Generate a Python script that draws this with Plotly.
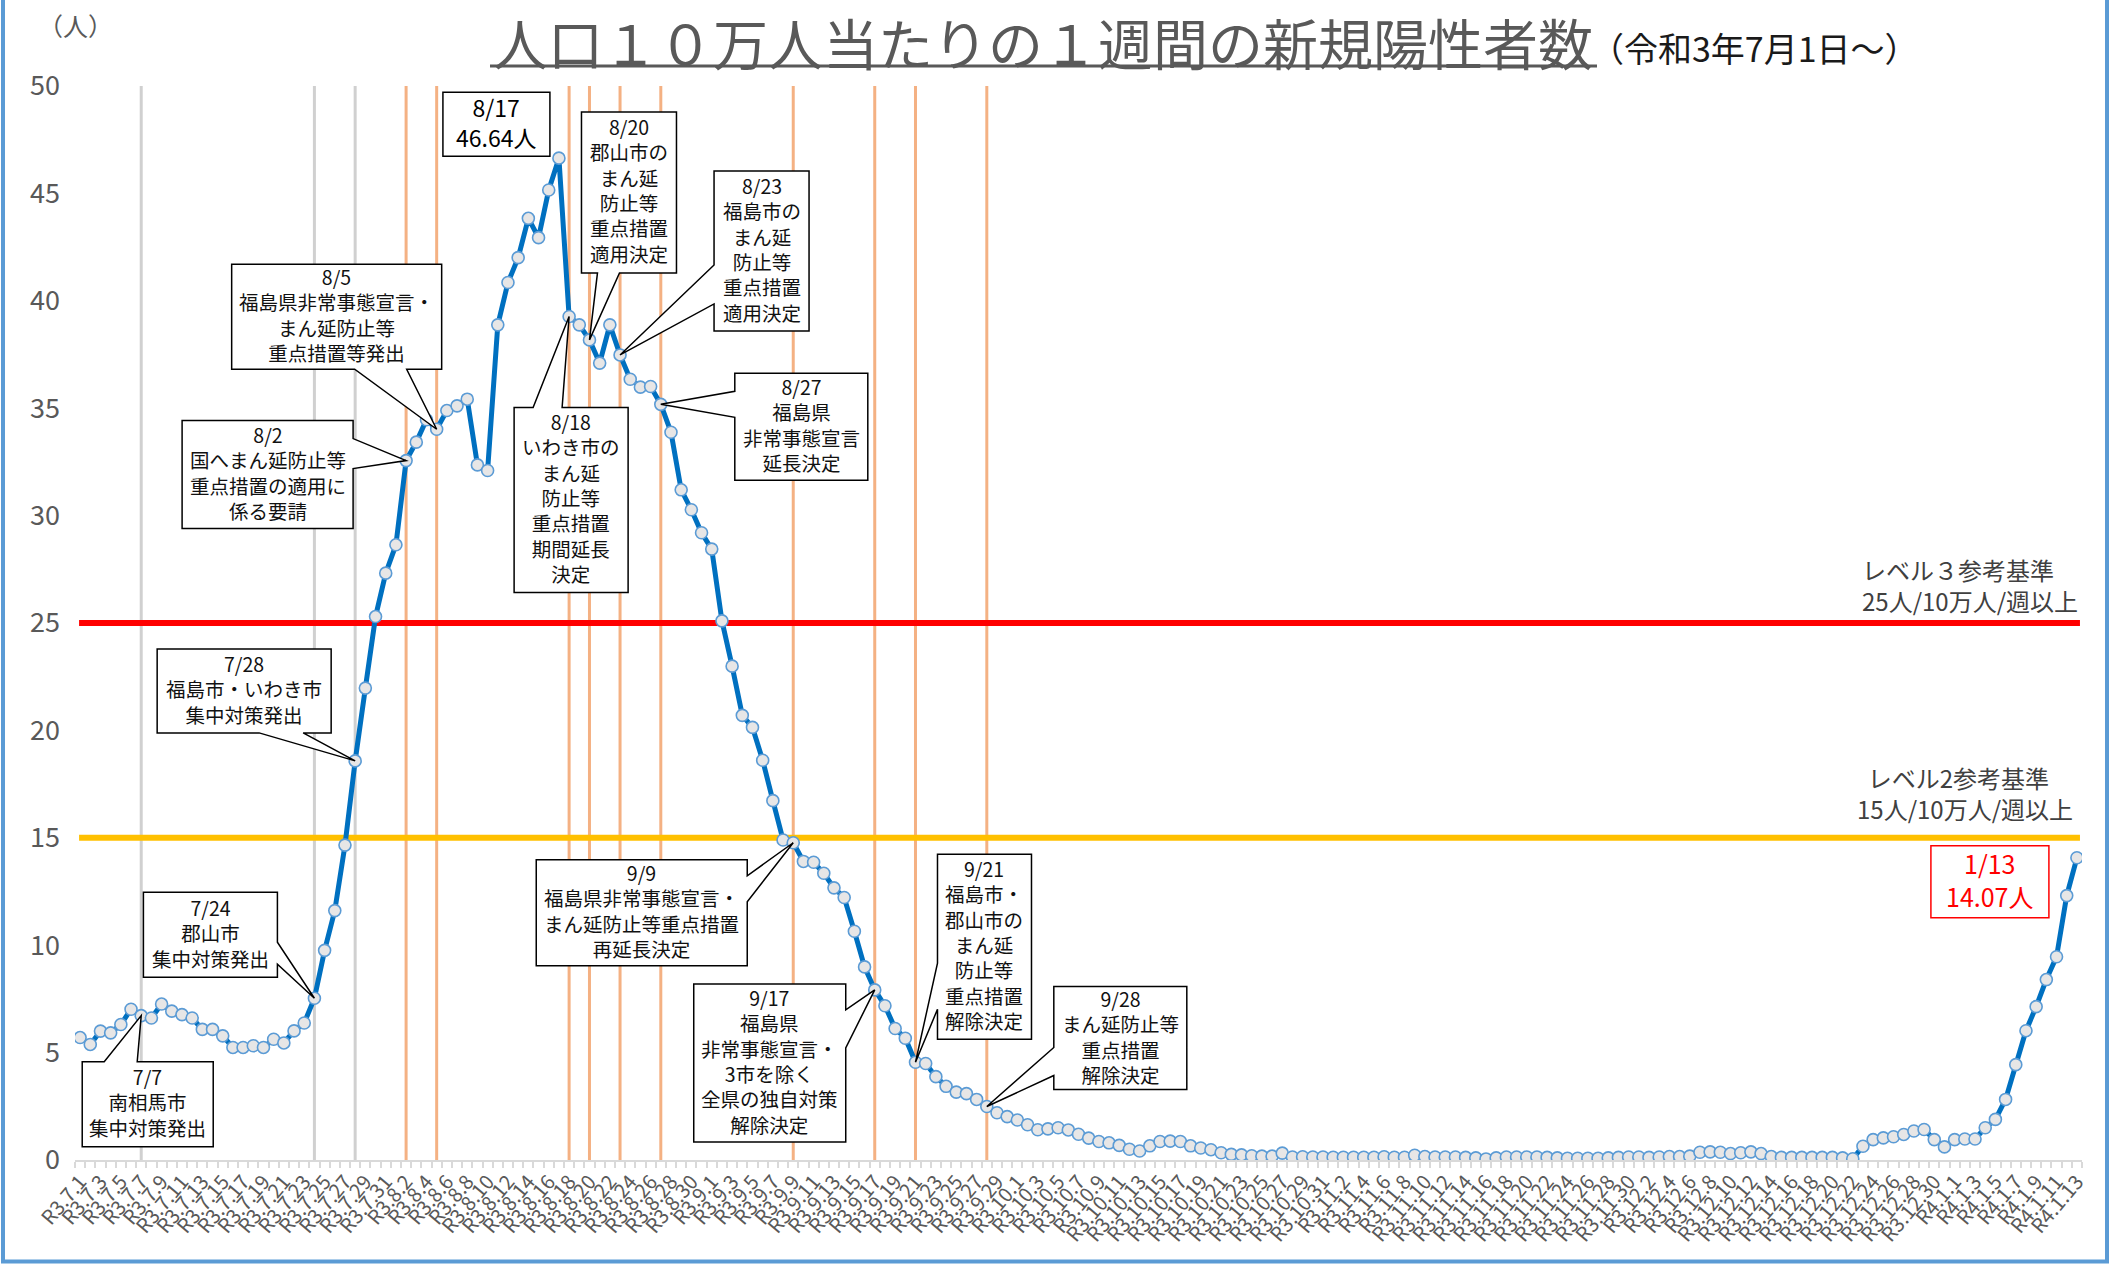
import plotly.graph_objects as go
import pandas as pd

# ---------------- data ----------------
dates = pd.date_range("2021-07-01", "2022-01-13", freq="D")
labels = [f"R{d.year - 2018}.{d.month}.{d.day}" for d in dates]

values = [
    # July 2021
    5.70, 5.38, 6.00, 5.92, 6.31, 7.02, 6.72, 6.61, 7.26, 6.93,
    6.77, 6.61, 6.08, 6.08, 5.78, 5.24, 5.24, 5.32, 5.24, 5.62,
    5.45, 6.01, 6.38, 7.53, 9.76, 11.61, 14.66, 18.58, 21.97, 25.30,
    27.32,
    # August
    28.64, 32.56, 33.42, 34.46, 34.02, 34.89, 35.11, 35.42, 32.36, 32.10,
    38.88, 40.85, 42.01, 43.84, 42.94, 45.16, 46.64, 39.27, 38.88, 38.18,
    37.10, 38.88, 37.48, 36.35, 35.98, 36.01, 35.18, 33.88, 31.20, 30.27,
    29.20,
    # September
    28.44, 25.10, 22.99, 20.70, 20.14, 18.61, 16.73, 14.90, 14.77, 13.90,
    13.86, 13.35, 12.67, 12.22, 10.65, 8.99, 7.92, 7.18, 6.12, 5.67,
    4.55, 4.49, 3.88, 3.43, 3.16, 3.09, 2.82, 2.49, 2.20, 2.02,
    # October
    1.86, 1.64, 1.41, 1.45, 1.50, 1.40, 1.20, 1.02, 0.86, 0.80,
    0.68, 0.50, 0.42, 0.66, 0.86, 0.88, 0.86, 0.66, 0.56, 0.48,
    0.34, 0.26, 0.24, 0.20, 0.18, 0.18, 0.32, 0.14, 0.15, 0.14,
    0.14,
    # November
    0.13, 0.13, 0.13, 0.13, 0.13, 0.15, 0.13, 0.13, 0.22, 0.16,
    0.14, 0.14, 0.14, 0.12, 0.10, 0.05, 0.10, 0.14, 0.14, 0.14,
    0.14, 0.12, 0.10, 0.08, 0.08, 0.08, 0.08, 0.10, 0.12, 0.14,
    # December
    0.14, 0.12, 0.14, 0.16, 0.16, 0.18, 0.36, 0.38, 0.36, 0.30,
    0.34, 0.38, 0.30, 0.16, 0.12, 0.12, 0.12, 0.12, 0.12, 0.12,
    0.10, 0.06, 0.64, 0.95, 1.03, 1.08, 1.19, 1.35, 1.42, 0.95,
    0.61,
    # January 2022
    0.95, 0.98, 0.98, 1.50, 1.89, 2.82, 4.44, 6.02, 7.14, 8.40,
    9.46, 12.31, 14.07,
]

gray_events = ["R3.7.7", "R3.7.24", "R3.7.28"]
orange_events = ["R3.8.2", "R3.8.5", "R3.8.18", "R3.8.20", "R3.8.23",
                 "R3.8.27", "R3.9.9", "R3.9.17", "R3.9.21", "R3.9.28"]

levels = [25, 15]
level_colors = ["#FF0000", "#FFC000"]
level_texts = ["レベル３参考基準　<br>25人/10万人/週以上",
               "レベル2参考基準　<br>15人/10万人/週以上"]

# callouts: date, text, box (left, top, right, bottom) px offsets from point
# (screen down = +), wedge (edge, a, b)
callouts = [
    ("R3.7.7", "7/7<br>南相馬市<br>集中対策発出", (-59, 46, 72, 131), ("top", -37, -4)),
    ("R3.7.24", "7/24<br>郡山市<br>集中対策発出", (-171, -106, -37, -21), ("right", -56, -34)),
    ("R3.7.28", "7/28<br>福島市・いわき市<br>集中対策発出", (-198, -112, -24, -28), ("bottom", -96, -52)),
    ("R3.8.2", "8/2<br>国へまん延防止等<br>重点措置の適用に<br>係る要請", (-224, -40, -53, 68), ("right", -22, 8)),
    ("R3.8.5", "8/5<br>福島県非常事態宣言・<br>まん延防止等<br>重点措置等発出", (-205, -165, 5, -60), ("bottom", -82, -30)),
    ("R3.8.18", "8/18<br>いわき市の<br>まん延<br>防止等<br>重点措置<br>期間延長<br>決定", (-55, 91, 59, 276), ("top", -36, -7)),
    ("R3.8.20", "8/20<br>郡山市の<br>まん延<br>防止等<br>重点措置<br>適用決定", (-8, -228, 87, -67), ("bottom", 8, 30)),
    ("R3.8.23", "8/23<br>福島市の<br>まん延<br>防止等<br>重点措置<br>適用決定", (94, -184, 189, -24), ("left", -90, -51)),
    ("R3.8.27", "8/27<br>福島県<br>非常事態宣言<br>延長決定", (74, -31, 207, 76), ("left", -13, 13)),
    ("R3.9.9", "9/9<br>福島県非常事態宣言・<br>まん延防止等重点措置<br>再延長決定", (-257, 17, -46, 123), ("right", 33, 59)),
    ("R3.9.17", "9/17<br>福島県<br>非常事態宣言・<br>3市を除く<br>全県の独自対策<br>解除決定", (-181, -6, -29, 152), ("right", 20, 58)),
    ("R3.9.21", "9/21<br>福島市・<br>郡山市の<br>まん延<br>防止等<br>重点措置<br>解除決定", (22, -208, 116, -23), ("left", -99, -53)),
    ("R3.9.28", "9/28<br>まん延防止等<br>重点措置<br>解除決定", (67, -120, 200, -17), ("left", -59, -31)),
]
peak_box = ("R3.8.17", "8/17<br>46.64人", (-116, -66, -9, -2))
last_box = ("R4.1.13", "1/13<br>14.07人", (-146, -12, -28, 60))

# ---------------- layout geometry ----------------
W, H = 2111, 1266
ML, MR, MT, MB = 75, 29, 86, 105.5
PW = W - ML - MR
PH = H - MT - MB
FONT = "Noto Sans CJK JP"
n = len(values)


def pxx(p):
    return (p - ML) / PW


def pxy(p):
    return (H - MB - p) / PH


def callout_path(box, wedge):
    l, t, r, b = box
    pts = [(l, t)]
    e = wedge[0] if wedge else None
    if e == "top":
        pts += [(wedge[1], t), (0, 0), (wedge[2], t)]
    pts.append((r, t))
    if e == "right":
        pts += [(r, wedge[1]), (0, 0), (r, wedge[2])]
    pts.append((r, b))
    if e == "bottom":
        pts += [(wedge[2], b), (0, 0), (wedge[1], b)]
    pts.append((l, b))
    if e == "left":
        pts += [(l, wedge[2]), (0, 0), (l, wedge[1])]
    return "M " + " L ".join(f"{x},{-y}" for x, y in pts) + " Z"


fig = go.Figure()
fig.add_trace(go.Scatter(
    x=list(range(n)), y=values, mode="lines+markers",
    line=dict(color="#0070C0", width=5),
    marker=dict(size=12, color="#E7E6E6", line=dict(color="#5B9BD5", width=1.6)),
    hoverinfo="skip", showlegend=False,
))

shapes = []
for d in gray_events:
    i = labels.index(d)
    shapes.append(dict(type="line", xref="x", yref="y", x0=i, x1=i, y0=0, y1=50,
                       line=dict(color="#D0D0D0", width=3), layer="below"))
for d in orange_events:
    i = labels.index(d)
    shapes.append(dict(type="line", xref="x", yref="y", x0=i, x1=i, y0=0, y1=50,
                       line=dict(color="#F4B183", width=3), layer="below"))
for lv, col in zip(levels, level_colors):
    shapes.append(dict(type="line", xref="x", yref="y", x0=-0.1, x1=n - 0.7, y0=lv, y1=lv,
                       line=dict(color=col, width=6), layer="below"))

annotations = []
for d, txt, box, wedge in callouts:
    i = labels.index(d)
    shapes.append(dict(type="path", xref="x", yref="y", xsizemode="pixel", ysizemode="pixel",
                       xanchor=i, yanchor=values[i], path=callout_path(box, wedge),
                       fillcolor="white", line=dict(color="black", width=1.5), layer="above"))
    l, t, r, b = box
    annotations.append(dict(x=i, y=values[i], xref="x", yref="y", showarrow=False,
                            xshift=(l + r) / 2, yshift=-(t + b) / 2 + 2, text=txt, align="center",
                            xanchor="center", yanchor="middle",
                            font=dict(family=FONT, size=19.5, color="#111111")))

for (d, txt, box), col, fs in [(peak_box, "black", 23), (last_box, "#FF0000", 25)]:
    i = labels.index(d)
    shapes.append(dict(type="path", xref="x", yref="y", xsizemode="pixel", ysizemode="pixel",
                       xanchor=i, yanchor=values[i], path=callout_path(box, None),
                       fillcolor="white", line=dict(color=col, width=1.5), layer="above"))
    l, t, r, b = box
    annotations.append(dict(x=i, y=values[i], xref="x", yref="y", showarrow=False,
                            xshift=(l + r) / 2, yshift=-(t + b) / 2 + 2, text=txt, align="center",
                            xanchor="center", yanchor="middle",
                            font=dict(family=FONT, size=fs, color=col)))

# level texts (two lines each, right aligned)
level_pos = [(2080, 38), (2075, 45)]
for lv, txt, (xr, dy) in zip(levels, level_texts, level_pos):
    annotations.append(dict(x=pxx(xr), xref="paper", y=lv, yref="y", yshift=dy,
                            text=txt, showarrow=False, xanchor="right", yanchor="middle",
                            align="right",
                            font=dict(family=FONT, size=24, color="#404040")))

# title etc.
annotations.append(dict(x=pxx(1043), y=pxy(41), xref="paper", yref="paper", showarrow=False,
                        text="人口１０万人当たりの１週間の新規陽性者数",
                        xanchor="center", yanchor="middle", borderpad=0,
                        font=dict(family=FONT, size=55, color="#595959")))
annotations.append(dict(x=pxx(1588), y=pxy(47), xref="paper", yref="paper", showarrow=False,
                        text="（令和3年7月1日～）", xanchor="left", yanchor="middle",
                        font=dict(family=FONT, size=34, color="#1a1a1a")))
annotations.append(dict(x=pxx(36), y=pxy(25), xref="paper", yref="paper", showarrow=False,
                        text="（人）", xanchor="left", yanchor="middle",
                        font=dict(family=FONT, size=25, color="#595959")))

shapes.append(dict(type="line", xref="paper", yref="paper", x0=pxx(490), x1=pxx(1597),
                   y0=pxy(66), y1=pxy(66), line=dict(color="#595959", width=3)))
shapes.append(dict(type="path", xref="paper", yref="paper",
                   path=f"M {pxx(3)},{pxy(-20)} L {pxx(3)},{pxy(1262)} L {pxx(2107)},{pxy(1262)} L {pxx(2107)},{pxy(-20)}",
                   line=dict(color="#5B9BD5", width=4)))

fig.update_layout(
    width=W, height=H,
    margin=dict(l=ML, r=MR, t=MT, b=MB, pad=0),
    paper_bgcolor="white", plot_bgcolor="white",
    shapes=shapes, annotations=annotations,
    font=dict(family=FONT),
    xaxis=dict(range=[-0.5, n - 0.5], tickmode="array", tickvals=list(range(0, n, 2)),
               ticktext=labels[::2], tickangle=-50, ticks="",
               tickfont=dict(family=FONT, size=20, color="#595959"),
               showline=True, linecolor="#D9D9D9", linewidth=2, showgrid=False, zeroline=False,
               automargin=False,
               minor=dict(tickmode="array", tickvals=[i - 0.5 for i in range(n + 1)],
                          ticks="outside", ticklen=6, tickcolor="#D9D9D9", tickwidth=1.5)),
    yaxis=dict(range=[0, 50], tickmode="linear", tick0=0, dtick=5, ticks="",
               showgrid=False, zeroline=False, showline=False, automargin=False,
               tickfont=dict(family=FONT, size=27, color="#595959"), ticklabelstandoff=14),
)

fig.write_html("out.html", config={"displayModeBar": False},
               post_script="document.body.style.margin='0px';document.body.style.overflow='hidden';")
